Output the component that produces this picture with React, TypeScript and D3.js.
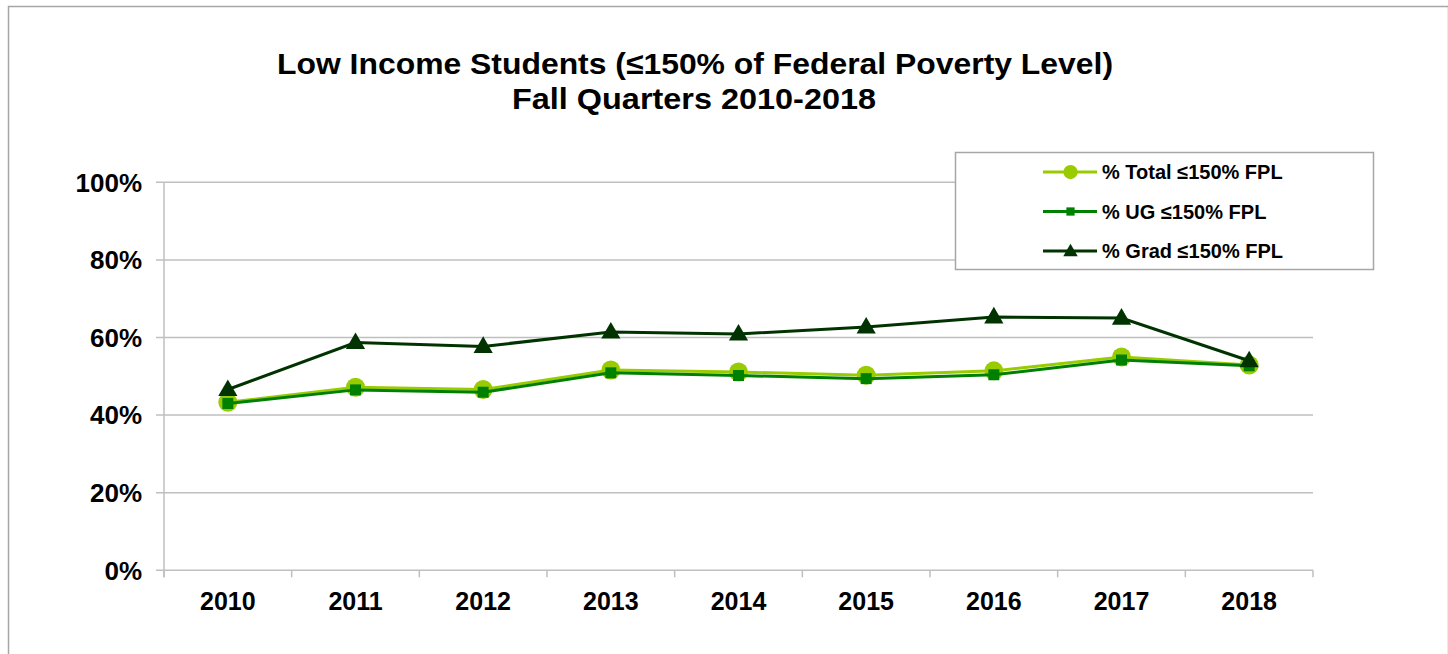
import React from "react";
import * as d3 from "d3";

const years = ["2010", "2011", "2012", "2013", "2014", "2015", "2016", "2017", "2018"];
const totalPct = [43.3, 47.2, 46.6, 51.6, 51.1, 50.3, 51.4, 55.0, 52.9];
const ugPct = [43.0, 46.5, 45.9, 50.9, 50.2, 49.4, 50.4, 54.2, 52.7];
const gradPct = [46.6, 58.7, 57.7, 61.4, 60.9, 62.7, 65.3, 65.0, 54.0];
const yTicks = [0, 20, 40, 60, 80, 100];
const titleLines = ["Low Income Students (\u2264150% of Federal Poverty Level)", "Fall Quarters 2010-2018"];
const legendLabels = ["% Total \u2264150% FPL", "% UG \u2264150% FPL", "% Grad \u2264150% FPL"];

const FONT = "'Liberation Sans', Arial, sans-serif";

export default function App() {
  const W = 1448, H = 654;
  const left = 164, right = 1313, top = 182.3, bottom = 570.3;
  const x = d3.scaleBand().domain(years).range([left, right]).paddingInner(0).paddingOuter(0);
  const y = d3.scaleLinear().domain([0, 100]).range([bottom, top]);
  const cx = (yr: string) => (x(yr) as number) + x.bandwidth() / 2;

  const series = [
    { name: legendLabels[0], values: totalPct, color: "#99CC00", width: 3, marker: "circle" },
    { name: legendLabels[1], values: ugPct, color: "#008000", width: 3, marker: "square" },
    { name: legendLabels[2], values: gradPct, color: "#003300", width: 3, marker: "triangle" },
  ];

  const line = d3.line<number>().x((_, i) => cx(years[i])).y((d) => y(d));
  const tri = d3.symbol(d3.symbolTriangle, 160)();

  const marker = (type: string, color: string, px: number, py: number, key: string, scale = 1) => {
    if (type === "circle") return <circle key={key} cx={px} cy={py} r={9.5 * scale} fill={color} />;
    if (type === "square") return <rect key={key} x={px - 5.5 * scale} y={py - 5.5 * scale} width={11 * scale} height={11 * scale} fill={color} />;
    return <path key={key} d={tri || ""} transform={`translate(${px},${py + 1}) scale(${scale})`} fill={color} />;
  };

  const boundaries = years.map((yr) => x(yr) as number).concat([right]);

  return (
    <svg width={W} height={H} style={{ position: "absolute", left: 0, top: 0, background: "#fff" }} fontFamily={FONT}>
      <rect x={8.5} y={6.5} width={1440} height={700} fill="#fff" stroke="#A6A6A6" strokeWidth={1.5} />
      <text x={695} y={74} textAnchor="middle" fontSize={30} fontWeight="bold" fill="#000" textLength={836} lengthAdjust="spacingAndGlyphs">{titleLines[0]}</text>
      <text x={694} y={109} textAnchor="middle" fontSize={30} fontWeight="bold" fill="#000" textLength={364} lengthAdjust="spacingAndGlyphs">{titleLines[1]}</text>
      {yTicks.map((t) => (
        <g key={t}>
          <line x1={156} x2={right} y1={y(t)} y2={y(t)} stroke="#BFBFBF" strokeWidth={1.5} />
          <text x={142} y={y(t)} dy="0.36em" textAnchor="end" fontSize={26} fontWeight="bold">{t}%</text>
        </g>
      ))}
      <line x1={left} x2={left} y1={top} y2={bottom + 7} stroke="#BFBFBF" strokeWidth={1.5} />
      {boundaries.map((b, i) => (
        <line key={i} x1={b} x2={b} y1={bottom} y2={bottom + 7} stroke="#BFBFBF" strokeWidth={1.5} />
      ))}
      {years.map((yr) => (
        <text key={yr} x={cx(yr)} y={610} textAnchor="middle" fontSize={25} fontWeight="bold">{yr}</text>
      ))}
      {series.map((s) => (
        <g key={s.name}>
          <path d={line(s.values) || ""} fill="none" stroke={s.color} strokeWidth={s.width} />
          {s.values.map((v, i) => marker(s.marker, s.color, cx(years[i]), y(v), s.name + i))}
        </g>
      ))}
      <rect x={955.5} y={152.5} width={418} height={117} fill="#fff" stroke="#A6A6A6" strokeWidth={1.5} />
      {series.map((s, i) => {
        const ly = 172 + i * 39.5;
        return (
          <g key={"lg" + i}>
            <line x1={1043} x2={1097} y1={ly} y2={ly} stroke={s.color} strokeWidth={3} />
            {marker(s.marker, s.color, 1070.5, ly, "lm" + i, 0.75)}
            <text x={1102} y={ly} dy="0.36em" fontSize={20} fontWeight="bold">{s.name}</text>
          </g>
        );
      })}
    </svg>
  );
}
